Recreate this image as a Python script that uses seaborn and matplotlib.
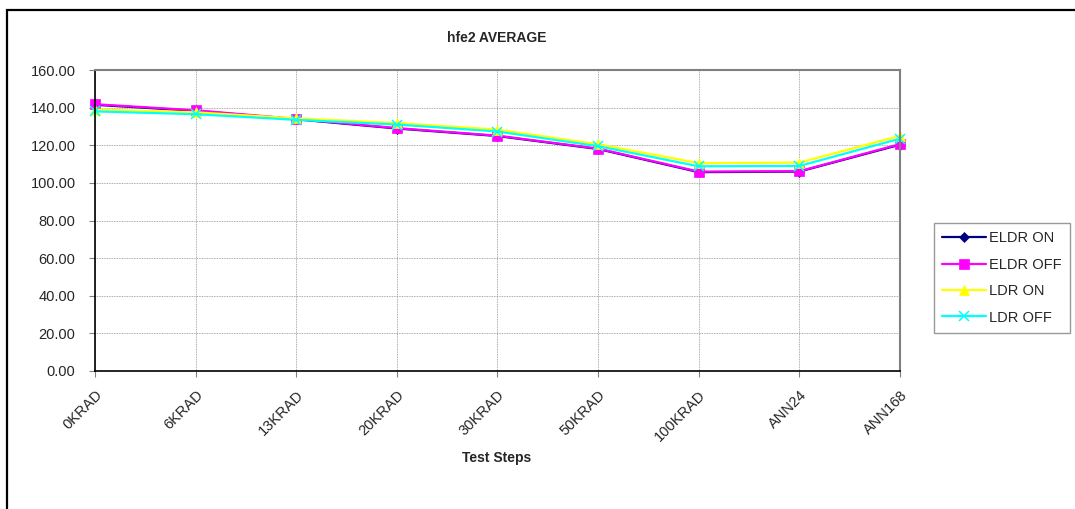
"""hfe2 AVERAGE: средние значения по шагам испытаний для четырёх режимов."""
import matplotlib
matplotlib.use('Agg')
import matplotlib.pyplot as plt
import matplotlib.patches as patches
import seaborn as sns
import pandas as pd

steps = ['0KRAD', '6KRAD', '13KRAD', '20KRAD', '30KRAD', '50KRAD', '100KRAD', 'ANN24', 'ANN168']
eldr_on = [141.5, 138.3, 133.8, 128.9, 124.9, 118.0, 105.7, 106.0, 120.3]
eldr_off = [141.8, 138.6, 134.0, 129.1, 125.1, 118.2, 106.0, 106.2, 120.6]
ldr_on = [139.0, 137.5, 134.3, 131.8, 128.3, 120.5, 110.5, 110.8, 125.0]
ldr_off = [138.0, 136.5, 133.5, 131.0, 127.3, 119.5, 108.8, 109.0, 123.5]

series = ['ELDR ON', 'ELDR OFF', 'LDR ON', 'LDR OFF']
values = [eldr_on, eldr_off, ldr_on, ldr_off]
colors = ['#000080', '#FF00FF', '#FFFF00', '#00FFFF']
markers = ['D', 's', '^', 'x']
msizes = [5, 7.5, 7, 6.5]

sns.set_style('white')
plt.rcParams['font.family'] = ['Liberation Sans', 'DejaVu Sans']

fig = plt.figure(figsize=(10.75, 5.09), dpi=100)
ax = fig.add_axes([95 / 1075, 1 - 371 / 509, 805 / 1075, 301 / 509])

for name, vals, c, m, ms in zip(series, values, colors, markers, msizes):
    df = pd.DataFrame({'step': range(len(steps)), 'value': vals})
    sns.lineplot(data=df, x='step', y='value', ax=ax, color=c, marker=m,
                 markersize=ms, markeredgecolor=c, markeredgewidth=1.1 if m == 'x' else 0.5,
                 linewidth=1.6, label=name, clip_on=False)

ax.set_xlim(0, len(steps) - 1)
ax.set_ylim(0, 160)
ax.set_yticks(range(0, 161, 20))
ax.set_yticklabels([f'{v:.2f}' for v in range(0, 161, 20)], fontsize=10.5)
ax.set_xticks(range(len(steps)))
ax.set_xticklabels(steps, fontsize=10.5, rotation=45, ha='right', rotation_mode='anchor')
ax.tick_params(axis='both', length=4, width=0.8, color='#808080', direction='out',
               bottom=True, left=True)
ax.tick_params(axis='y', pad=10)
ax.tick_params(axis='x', pad=8)
ax.grid(True, color='#909090', linestyle=(0, (1, 1)), linewidth=0.6)
for s in ['left', 'bottom']:
    ax.spines[s].set_color('black')
    ax.spines[s].set_linewidth(1.2)
for s in ['top', 'right']:
    ax.spines[s].set_color('#808080')
    ax.spines[s].set_linewidth(1.5)
ax.set_xlabel('')
ax.set_ylabel('')

leg = ax.legend(loc='center', bbox_to_anchor=(1002 / 1075, 1 - 278 / 509),
                bbox_transform=fig.transFigure, fontsize=10.5, frameon=True,
                fancybox=False, edgecolor='#808080', handlelength=3,
                labelspacing=0.85, borderpad=0.6, handletextpad=0.2)
leg.get_frame().set_linewidth(1.0)

fig.text(497 / 1075, 1 - 38 / 509, 'hfe2 AVERAGE', ha='center', va='center',
         fontsize=10, fontweight='bold')
fig.text(497 / 1075, 1 - 458 / 509, 'Test Steps', ha='center', va='center',
         fontsize=10, fontweight='bold')

fig.patches.append(patches.Rectangle((7 / 1075, -0.05), 1.2, 0.98 + 0.05,
                                     transform=fig.transFigure, fill=False,
                                     edgecolor='black', linewidth=1.6))

fig.savefig('out.png', dpi=100)
